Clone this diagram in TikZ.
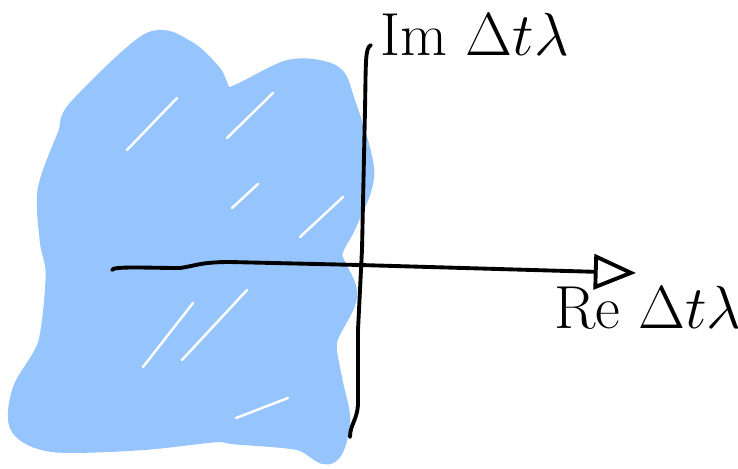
\documentclass[tikz,border=0pt]{standalone}
\usepackage{tikz}
\usetikzlibrary{arrows.meta, positioning}
\definecolor{scribble}{RGB}{150,196,253}

\begin{document}
\begin{tikzpicture}[x=0.01cm, y=-0.01cm,
    blob/.style={scribble, line width=7pt, line join=round, line cap=round},
    gap/.style={white, line width=0.7pt, line cap=round},
    axis/.style={draw, line width=1.1pt, line cap=round, line join=round},
    lbl/.style={font=\LARGE, inner sep=0pt}]
    \useasboundingbox (0,0) rectangle (738,469);

    % Stable region (left half plane)
    \fill[blob] plot[smooth cycle, tension=0.5] coordinates {
        (80,110) (150,45) (185,52) (210,75) (228,100) (290,72) (330,76)
        (342,100) (362,172) (345,222) (330,255) (345,295) (325,340)
        (330,380) (338,420) (328,452) (300,438) (235,432) (215,430)
        (140,438) (55,440) (22,425) (25,390) (50,345) (58,275)
        (52,240) (50,190) (70,135)};
    \draw[blob] plot[smooth cycle, tension=0.5] coordinates {
        (80,110) (150,45) (185,52) (210,75) (228,100) (290,72) (330,76)
        (342,100) (362,172) (345,222) (330,255) (345,295) (325,340)
        (330,380) (338,420) (328,452) (300,438) (235,432) (215,430)
        (140,438) (55,440) (22,425) (25,390) (50,345) (58,275)
        (52,240) (50,190) (70,135)};
    % scribble gaps
    \draw[gap] (127,150) -- (177,98);
    \draw[gap] (227,138) -- (273,93);
    \draw[gap] (232,208) -- (258,184);
    \draw[gap] (300,237) -- (343,197);
    \draw[gap] (143,367) -- (193,303);
    \draw[gap] (182,360) -- (247,290);
    \draw[gap] (236,418) -- (288,398);

    % Axes
    \coordinate (imtop) at (371,45);
    \coordinate (imbot) at (350,437);
    \coordinate (reorig) at (112,270);
    \coordinate (retip) at (636,273);
    \draw[axis] (imtop) .. controls (365,48) and (366,60) .. (365,110)
        -- (362,250) -- (358,330) -- (358,405) .. controls (357,420) and (350,425) .. (imbot);
    \draw[axis, -{Triangle[open, length=12pt, width=10pt]}] (reorig)
        .. controls (112,266) and (150,268) .. (180,268)
        .. controls (195,266) and (200,262) .. (230,262)
        -- (360,265) -- (retip);

    % Labels
    \node[lbl, anchor=west] (imlbl) at (380,34) {Im $\Delta t\lambda$};
    \node[lbl] (relbl) at (648,308) {Re $\Delta t\lambda$};
\end{tikzpicture}
\end{document}
